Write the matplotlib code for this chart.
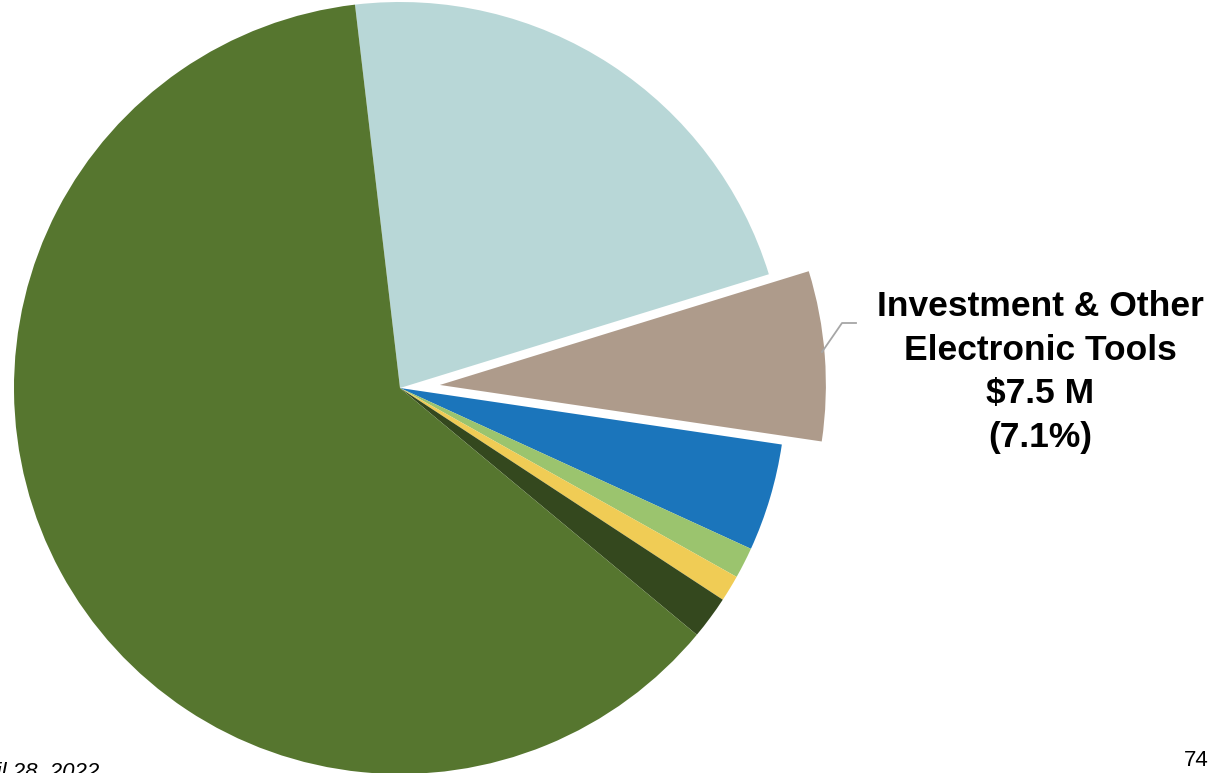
import matplotlib.pyplot as plt
import matplotlib as mpl

mpl.rcParams['font.family'] = ['Liberation Sans Narrow', 'Liberation Sans', 'DejaVu Sans']

# shares of total (%), clockwise from the top
categories = ['Other (light blue)', 'Investment & Other Electronic Tools', 'Blue segment',
              'Light green segment', 'Yellow segment', 'Dark green segment', 'Green segment']
shares = [22.1, 7.1, 4.5, 1.3, 1.1, 1.8, 62.1]
colors = ['#B8D7D7', '#AE9B8B', '#1B75BB', '#9BC46E', '#F0CC55', '#34481E', '#56762F']
label_text = 'Investment & Other\nElectronic Tools\n$7.5 M\n(7.1%)'

W, H = 1221, 773
fig = plt.figure(figsize=(W / 100, H / 100), dpi=100)
ax = fig.add_axes([0, 0, 1, 1])

# pie drawn in pixel units: centre and radius
explode = [0, 40, 0, 0, 0, 0, 0]
ax.pie(shares, colors=colors, explode=explode, startangle=96.7, counterclock=False,
       center=(400, H - 388), radius=386, frame=True,
       wedgeprops=dict(linewidth=0))
ax.set_xlim(0, W)
ax.set_ylim(0, H)
ax.set_aspect('equal')
ax.axis('off')

# leader line to the label
ax.plot([822, 842, 856], [H - 352, H - 323, H - 323], color='#A6A6A6', lw=1.3)
ax.text(1040, H - 372, label_text, ha='center', va='center', fontsize=25.5,
        fontweight='bold', linespacing=1.42)

ax.text(1196, H - 760, '74', ha='center', va='center', fontsize=16)
ax.text(-38, -10, 'April 28, 2022', ha='left', va='bottom', fontsize=16, style='italic')

fig.savefig('out.png', dpi=100)
